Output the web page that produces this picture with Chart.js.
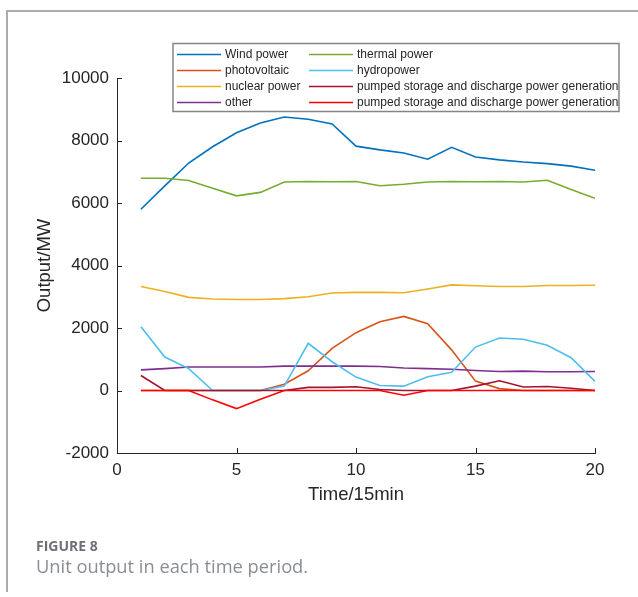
<!DOCTYPE html>
<html>
<head>
<meta charset="utf-8">
<script src="https://cdn.jsdelivr.net/npm/chart.js@4.4.1/dist/chart.umd.min.js"></script>
<style>
  html, body { margin: 0; padding: 0; background: #ffffff; }
  body { width: 638px; height: 597px; position: relative; overflow: hidden; }
  #frame { position: absolute; left: 6px; top: 10px; width: 700px; height: 580px;
           border-left: 2px solid #a9abb2; border-top: 2px solid #a9abb2; }
  #chart { position: absolute; left: 0; top: 0; }
  #figno { position: absolute; left: 36px; top: 536px; font-family: "Open Sans", sans-serif;
           font-weight: 700; font-size: 14px; color: #6d7079; }
  #figcap { position: absolute; left: 36px; top: 553px; font-family: "Open Sans", sans-serif;
            font-weight: 400; font-size: 18.3px; color: #8a8d94; }
</style>
</head>
<body>
<div id="frame"></div>
<canvas id="chart" width="638" height="597"></canvas>
<div id="figno">FIGURE 8</div>
<div id="figcap">Unit output in each time period.</div>
<script>
// ---- data ----
const timePeriods = [1, 2, 3, 4, 5, 6, 7, 8, 9, 10, 11, 12, 13, 14, 15, 16, 17, 18, 19, 20];
const seriesNames = ["Wind power", "photovoltaic", "nuclear power", "other",
                     "thermal power", "hydropower",
                     "pumped storage and discharge power generation",
                     "pumped storage and discharge power generation"];
const windPower    = [5800, 6550, 7280, 7800, 8250, 8560, 8750, 8680, 8530, 7820, 7700, 7600, 7400, 7780, 7470, 7380, 7310, 7260, 7180, 7050];
const photovoltaic = [0, 0, 0, 0, 0, 0, 200, 630, 1350, 1850, 2200, 2370, 2140, 1300, 300, 60, 0, 0, 0, 0];
const nuclearPower = [3330, 3170, 2980, 2930, 2910, 2910, 2940, 3000, 3120, 3140, 3140, 3130, 3250, 3380, 3350, 3330, 3330, 3360, 3360, 3370];
const otherPower   = [660, 700, 750, 750, 750, 750, 780, 780, 780, 780, 770, 720, 700, 680, 640, 610, 620, 600, 600, 610];
const thermalPower = [6790, 6790, 6720, 6470, 6230, 6340, 6670, 6690, 6680, 6690, 6550, 6600, 6670, 6690, 6680, 6690, 6670, 6730, 6430, 6150];
const hydropower   = [2040, 1070, 700, 0, 0, 0, 140, 1510, 920, 430, 160, 140, 440, 580, 1390, 1680, 1640, 1450, 1050, 290];
const pumpedGen1   = [480, 0, 0, 0, 0, 0, 0, 100, 100, 120, 30, 0, 0, 0, 140, 310, 110, 130, 70, 0];
const pumpedGen2   = [0, 0, 0, -300, -580, -280, 0, 0, 0, 0, 0, -150, 0, 0, 0, 0, 0, 0, 0, 0];
const yTickValues  = [-2000, 0, 2000, 4000, 6000, 8000, 10000];
const xTickValues  = [0, 5, 10, 15, 20];

const seriesValues = [windPower, photovoltaic, nuclearPower, otherPower, thermalPower, hydropower, pumpedGen1, pumpedGen2];
const seriesColors = ["#0072BD", "#D95319", "#EDB120", "#7E2F8E", "#77AC30", "#4DBEEE", "#A2142F", "#FF0000"];

const axisColor = "#262626";
const fontFamily = '"Liberation Sans", Arial, Helvetica, sans-serif';
Chart.defaults.font.family = fontFamily;

const datasets = seriesValues.map((vals, i) => ({
  label: seriesNames[i],
  data: vals.map((v, k) => ({ x: timePeriods[k], y: v })),
  borderColor: seriesColors[i],
  backgroundColor: seriesColors[i],
  borderWidth: 1.6,
  pointRadius: 0,
  tension: 0,
  fill: false,
  order: seriesValues.length - i
}));

// inward tick marks (MATLAB style)
const inwardTicks = {
  id: 'inwardTicks',
  afterDraw(chart) {
    const ctx = chart.ctx;
    const xs = chart.scales.x, ys = chart.scales.y;
    const area = chart.chartArea;
    ctx.save();
    ctx.strokeStyle = axisColor;
    ctx.lineWidth = 1;
    ctx.beginPath();
    yTickValues.forEach(v => {
      const py = Math.round(ys.getPixelForValue(v)) + 0.5;
      ctx.moveTo(area.left, py);
      ctx.lineTo(area.left + 5, py);
    });
    xTickValues.forEach(v => {
      const px = Math.round(xs.getPixelForValue(v)) + 0.5;
      ctx.moveTo(px, area.bottom);
      ctx.lineTo(px, area.bottom - 5);
    });
    ctx.stroke();
    ctx.restore();
  }
};

// two-column legend box (column-major like MATLAB)
const boxLegend = {
  id: 'boxLegend',
  afterDraw(chart) {
    const ctx = chart.ctx;
    const ds = chart.data.datasets;
    const left = 173, top = 43.5, right = 619, bottom = 111.5;
    ctx.save();
    ctx.fillStyle = '#ffffff';
    ctx.fillRect(left, top, right - left, bottom - top);
    ctx.strokeStyle = '#858585';
    ctx.lineWidth = 1.5;
    ctx.strokeRect(left, top, right - left, bottom - top);
    ctx.font = "12px " + fontFamily;
    ctx.textBaseline = 'middle';
    ctx.textAlign = 'left';
    const rows = 4;
    const colLineX = [177, 309];
    const rowY = [54.5, 70.5, 86.5, 102.5];
    ds.forEach((d, i) => {
      const c = Math.floor(i / rows), r = i % rows;
      const y = rowY[r];
      ctx.strokeStyle = d.borderColor;
      ctx.lineWidth = 1.6;
      ctx.beginPath();
      ctx.moveTo(colLineX[c], y);
      ctx.lineTo(colLineX[c] + 44, y);
      ctx.stroke();
      ctx.fillStyle = axisColor;
      ctx.fillText(d.label, colLineX[c] + 48, y + 0.5);
    });
    ctx.restore();
  }
};

const plainNumber = v => String(v);

new Chart(document.getElementById('chart'), {
  type: 'line',
  data: { datasets },
  plugins: [inwardTicks, boxLegend],
  options: {
    responsive: false,
    animation: false,
    devicePixelRatio: 1,
    layout: { padding: { top: 78, right: 43, bottom: 77, left: 0 } },
    plugins: { legend: { display: false }, tooltip: { enabled: false }, title: { display: false } },
    scales: {
      x: {
        type: 'linear',
        min: 0, max: 20,
        afterFit(scale) { scale.height = 67; },
        afterBuildTicks(scale) { scale.ticks = xTickValues.map(v => ({ value: v })); },
        ticks: { color: axisColor, font: { family: fontFamily, size: 17 }, padding: 7, maxRotation: 0,
                 callback: plainNumber },
        grid: { display: true, drawOnChartArea: false, drawTicks: false },
        border: { display: true, color: axisColor, width: 1 },
        title: { display: true, text: 'Time/15min', color: axisColor,
                 font: { family: fontFamily, size: 18.5 }, padding: { top: 0, bottom: 14 } }
      },
      y: {
        type: 'linear',
        min: -2000, max: 10000,
        afterFit(scale) { scale.width = 117; },
        afterBuildTicks(scale) { scale.ticks = yTickValues.map(v => ({ value: v })); },
        ticks: { color: axisColor, font: { family: fontFamily, size: 17 }, padding: 8,
                 callback: plainNumber },
        grid: { display: true, drawOnChartArea: false, drawTicks: false },
        border: { display: true, color: axisColor, width: 1 },
        title: { display: true, text: 'Output/MW', color: axisColor,
                 font: { family: fontFamily, size: 18.5 }, padding: { top: 34, bottom: 0 } }
      }
    }
  }
});
</script>
</body>
</html>
